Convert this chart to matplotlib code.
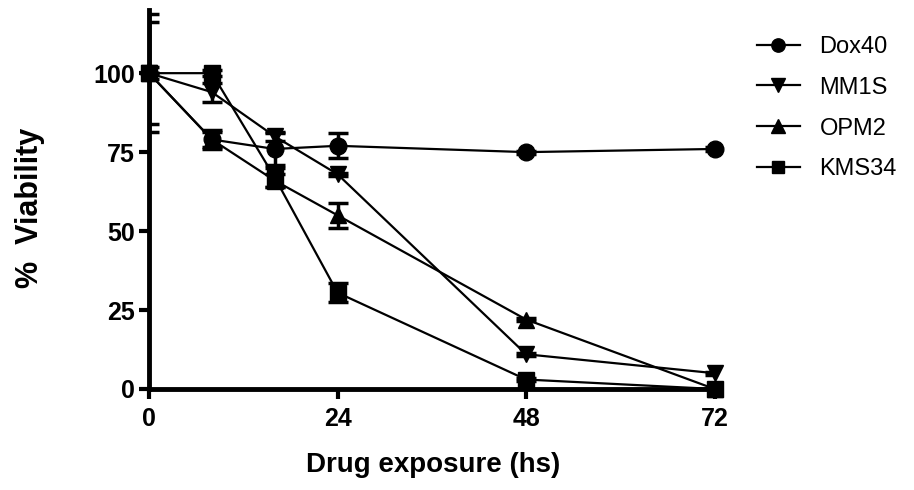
import matplotlib
matplotlib.use("Agg")
import matplotlib.pyplot as plt

plt.rcParams["font.family"] = ["Liberation Sans", "DejaVu Sans"]

hours = [0, 8, 16, 24, 48, 72]
series_names = ["Dox40", "MM1S", "OPM2", "KMS34"]
dox40 = [100, 79, 76, 77, 75, 76]
dox40_err = [0, 3, 5, 4, 0.5, 0.5]
mm1s = [100, 94, 80, 68, 11, 5]
mm1s_err = [18.7, 3, 1.5, 0.5, 0.5, 0.5]
opm2 = [100, 79, 66, 55, 22, 0]
opm2_err = [16.2, 2.5, 2, 4, 0.5, 0]
kms34 = [100, 100, 67, 30.5, 3, 0]
kms34_err = [2, 1, 3, 3, 0.5, 0]
markers = ["o", "v", "^", "s"]

x_ticks = [0, 24, 48, 72]
y_ticks = [0, 25, 50, 75, 100]

fig = plt.figure(figsize=(9.14, 4.9), dpi=100)
ax = fig.add_axes([149 / 914, 1 - 389 / 490, (717 - 149) / 914, (389 - 10) / 490])

handles = []
for name, vals, errs, mk in zip(series_names, [dox40, mm1s, opm2, kms34],
                                [dox40_err, mm1s_err, opm2_err, kms34_err], markers):
    # error bars stay clipped so the caps at x=0 show only on the right side
    ax.errorbar(hours, vals, yerr=errs, fmt="none", ecolor="black",
                elinewidth=2.5, capsize=7, capthick=2.5, zorder=3)
    ms = 12 if mk != "s" else 11.5
    (ln,) = ax.plot(hours, vals, marker=mk, color="black", lw=1.6, ms=ms,
                    clip_on=False, zorder=4, label=name)
    handles.append(ln)

ax.set_xlim(0, 72.3)
ax.set_ylim(0, 120)
ax.set_xticks(x_ticks)
ax.set_yticks(y_ticks)
for side in ("top", "right"):
    ax.spines[side].set_visible(False)
for side in ("left", "bottom"):
    ax.spines[side].set_linewidth(3.5)
ax.tick_params(width=3, length=7, labelsize=18)
ax.tick_params(axis="x", pad=6)
ax.tick_params(axis="y", pad=3)
for lab in ax.get_xticklabels() + ax.get_yticklabels():
    lab.set_fontweight("bold")

ax.set_xlabel("Drug exposure (hs)", fontsize=20, fontweight="bold", labelpad=15)
ax.set_ylabel("%  Viability", fontsize=22, fontweight="bold")
ax.yaxis.set_label_coords(-0.183, 0.478)

fig.legend(handles=handles, loc="upper left", bbox_to_anchor=(757 / 914, 0.927),
           frameon=False, fontsize=17, handlelength=1.8, handletextpad=0.85,
           labelspacing=0.8, markerscale=0.8, borderpad=0, borderaxespad=0)

fig.savefig("out.png", dpi=100)
